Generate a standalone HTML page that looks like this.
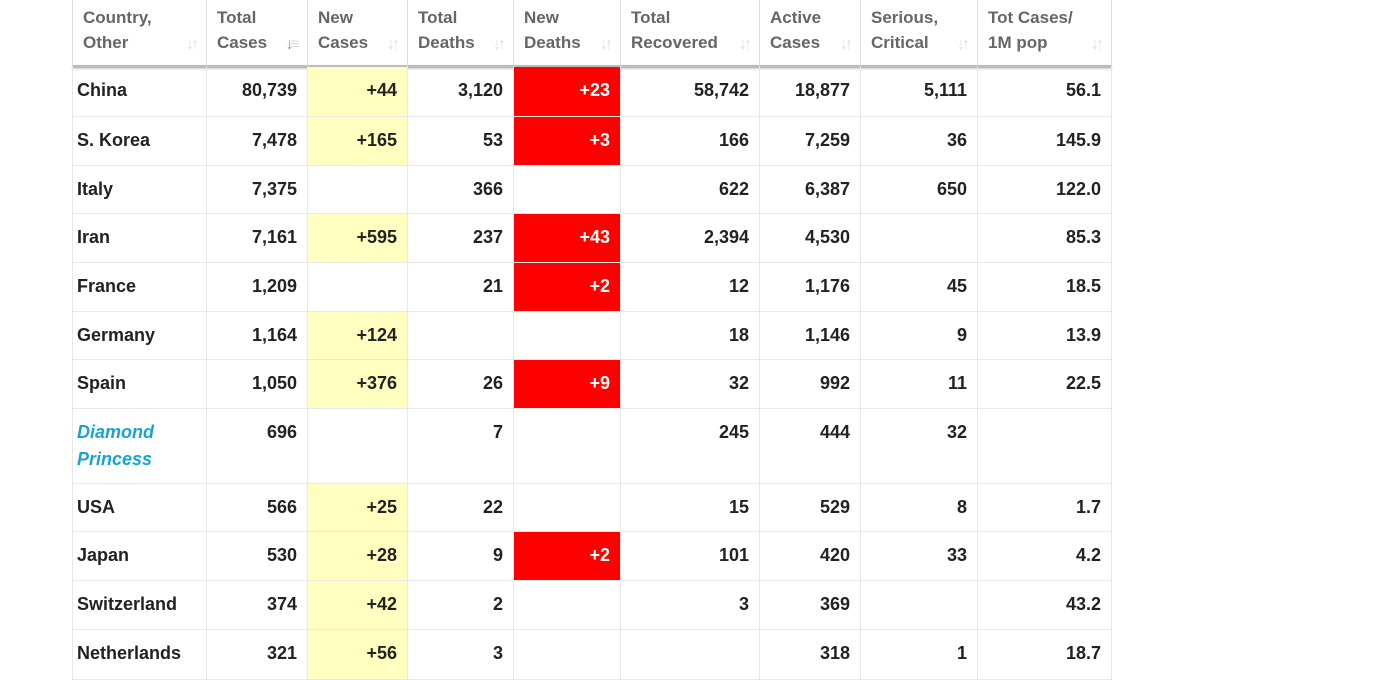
<!DOCTYPE html>
<html><head><meta charset="utf-8"><style>
body{margin:0;width:1387px;height:671px;overflow:hidden;background:#fff;font-family:"Liberation Sans",sans-serif;position:relative}
.c{position:absolute;box-sizing:border-box;font-weight:bold;font-size:18px;color:#222;line-height:27px;padding:10px 10px 0 4px;border-right:1px solid #e8e8e8;border-bottom:1px solid #e8e8e8}
.h{position:absolute;box-sizing:border-box;font-weight:bold;font-size:17px;color:#666;line-height:25px;padding:5px 10px 0 10px;border-right:1px solid #ddd;top:0;height:67px}
.ic{position:absolute;right:10px;top:32px;font-size:16px;color:#ddd;letter-spacing:-3px}
#hl{position:absolute;left:72px;top:65px;width:1040px;height:3px;background:#bbb;box-shadow:0 1px 2px #ccc}
</style></head><body>
<div id="hl"></div>
<script>
const colX=[72,207,308,408,514,621,760,861,978,1112];
const rowY=[67,117,166,214,263,312,360,409,484,532,581,630,680];
const headers=[["Country,","Other"],["Total","Cases"],["New","Cases"],["Total","Deaths"],["New","Deaths"],["Total","Recovered"],["Active","Cases"],["Serious,","Critical"],["Tot Cases/","1M pop"]];
const rows=[
["China","80,739","+44","3,120","+23","58,742","18,877","5,111","56.1"],
["S. Korea","7,478","+165","53","+3","166","7,259","36","145.9"],
["Italy","7,375","","366","","622","6,387","650","122.0"],
["Iran","7,161","+595","237","+43","2,394","4,530","","85.3"],
["France","1,209","","21","+2","12","1,176","45","18.5"],
["Germany","1,164","+124","","","18","1,146","9","13.9"],
["Spain","1,050","+376","26","+9","32","992","11","22.5"],
["Diamond<br>Princess","696","","7","","245","444","32",""],
["USA","566","+25","22","","15","529","8","1.7"],
["Japan","530","+28","9","+2","101","420","33","4.2"],
["Switzerland","374","+42","2","","3","369","","43.2"],
["Netherlands","321","+56","3","","","318","1","18.7"]];
headers.forEach((h,i)=>{
 const d=document.createElement('div');d.className='h';
 
 
 d.style.left=colX[i]+'px';d.style.width=(colX[i+1]-colX[i])+'px';
 if(i==0)d.style.borderLeft='1px solid #ddd';
 d.innerHTML=h[0]+'<br>'+h[1]+'<span class="ic">'+(i==1?'<span style="color:#999">↓</span>≡':'↓↑')+'</span>';
 document.body.appendChild(d);
});
rows.forEach((r,ri)=>{
 r.forEach((v,ci)=>{
  const d=document.createElement('div');d.className='c';
  
  
  d.style.left=colX[ci]+'px';d.style.width=(colX[ci+1]-colX[ci])+'px';
  d.style.top=rowY[ri]+'px';d.style.height=(rowY[ri+1]-rowY[ri])+'px';
  if(ci==0){d.style.borderLeft='1px solid #e8e8e8';if(ri==7){d.style.color='#1aa3cf';d.style.fontStyle='italic';}}
  else d.style.textAlign='right';
  if(ci==2&&v){d.style.background='#ffffbf';}
  if(ci==4&&v){d.style.background='#ff0000';d.style.color='#fff';}
  d.innerHTML=v;
  document.body.appendChild(d);
 });
});
</script>
</body></html>
